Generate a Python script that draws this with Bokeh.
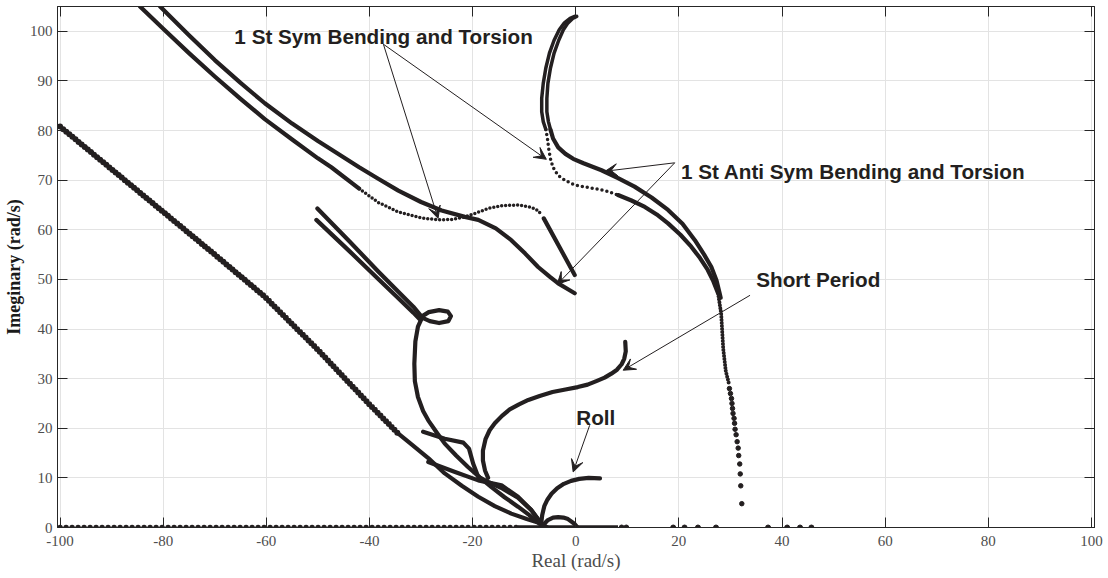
from bokeh.plotting import figure
from bokeh.models import Range1d, LinearAxis, Arrow, VeeHead, Label, FixedTicker
from bokeh.embed import file_html
from bokeh.resources import INLINE

INK = "#231f20"

# ---------------- data ----------------
x_ticks = [-100, -80, -60, -40, -20, 0, 20, 40, 60, 80, 100]
x_tick_labels = ["-100", "-80", "-60", "-40", "-20", "0", "20", "40", "60", "80", "100"]
y_ticks = [0, 10, 20, 30, 40, 50, 60, 70, 80, 90, 100]

# real-axis roots
real_dotted_x = [-100.0, -11.2]
real_solid_x = [-11.2, 8.2]
real_pts_x = [8.9, 9.8, 18.9, 21.1, 23.7, 27.2, 37.3, 41.0, 43.5, 45.7]

# long diagonal branch (dotted part, then dense part)
diag_x = [-100, -90, -80, -70, -60.3, -50, -40, -34.4]
diag_y = [80.8, 72.2, 63.6, 55.0, 46.5, 35.8, 24.8, 18.9]
diag2_x = [-34.4, -31.9, -28.6, -25.4, -22.1, -18.9, -15.7, -12.5, -9.5, -6.7, -5.5]
diag2_y = [18.9, 16.8, 14.0, 10.9, 8.4, 6.2, 4.3, 2.8, 1.7, 0.8, 0.0]

# upper edge of the lens near the origin
lens_x = [-28.6, -23.4, -18.9, -14.4, -11.2, -8.6, -6.7]
lens_y = [13.2, 11.2, 9.5, 8.5, 6.2, 3.5, 0.8]

# 1st symmetric bending/torsion: upper solid branch
symu_x = [-80.6, -75, -70, -65, -60.3, -55, -50, -47.4, -42, -38.3, -34.4, -30, -26, -21.5,
          -18.9, -15.5, -12.5, -9.8, -7.3, -5, -3.4, -1.5, -0.2]
symu_y = [105, 99.2, 94.2, 89.6, 85.5, 81.4, 77.9, 76.2, 72.6, 70.3, 67.9, 65.6, 63.9, 62.6,
          62.0, 60.3, 57.9, 55.2, 52.5, 50.5, 49.2, 48.0, 47.2]
# lower branch: solid, dotted, then solid tail
syml_x = [-84.5, -80, -75, -70, -65, -60.3, -55, -50, -47.4, -42]
syml_y = [105, 100.5, 95.6, 90.9, 86.4, 82.3, 78.2, 74.4, 72.6, 68.3]
symd_x = [-42, -38.3, -34.4, -30, -26.7, -24, -21.5, -19, -17, -14, -11, -8.5, -7.2, -6.7]
symd_y = [68.3, 65.5, 63.6, 62.4, 62.0, 62.1, 62.6, 63.5, 64.3, 64.9, 65.0, 64.5, 63.8, 63.0]
syme_x = [-6.2, -0.2]
syme_y = [62.3, 50.9]

# 1st anti-symmetric bending/torsion
hook_y = [103.0, 102.6, 101.7, 100.3, 98.2, 95.6, 92.6, 89.5, 86.5, 83.8, 81.8, 80.2]
hookl_x = [-0.2, -1.1, -2.2, -3.2, -4.2, -5.1, -5.8, -6.3, -6.6, -6.6, -6.3, -5.8]
hookr_x = [0.2, -0.6, -1.5, -2.4, -3.3, -4.2, -4.9, -5.4, -5.6, -5.6, -5.3, -4.9]
antd_x = [-5.8, -5.5, -5.2, -4.8, -4.1, -3.1, -2.1, -0.8, 0.4, 2.0, 3.7, 6.0, 8.2]
antd_y = [80.2, 78.5, 76.0, 73.8, 71.9, 70.7, 70.0, 69.3, 68.9, 68.6, 68.3, 67.8, 67.0]
antl_x = [8.2, 10.8, 13.4, 15.7, 17.9, 20.3, 22.4, 24.1, 25.6, 26.7, 27.6]
antl_y = [67.0, 65.9, 64.6, 63.1, 61.3, 59.0, 56.6, 54.3, 51.9, 49.6, 47.2]
ants_x = [-4.9, -4.4, -3.4, -2.0, -0.5, 1.5, 5.0, 8.2, 11.4, 14.7, 17.9, 20.7, 23.1, 24.9,
          26.3, 27.3, 27.9, 28.1]
ants_y = [80.2, 78.4, 76.6, 75.3, 74.3, 73.4, 72.0, 70.4, 68.7, 66.5, 64.0, 61.2, 57.9, 55.0,
          52.5, 49.8, 47.2, 46.3]
tail_x = [27.6, 28.2, 28.6, 29.1, 29.7]
tail_y = [47.2, 43.1, 36.0, 31.5, 29.0]
tailpts_x = [29.8, 30.0, 30.2, 30.3, 30.4, 30.5, 30.7, 30.8, 30.9, 31.1, 31.3, 31.5,
             31.6, 31.8, 31.9, 32.0, 32.2]
tailpts_y = [28.0, 27.0, 26.0, 25.0, 24.0, 23.0, 22.0, 21.0, 19.8, 18.7, 17.3, 16.0,
             14.5, 12.8, 10.8, 8.4, 4.8]

# branches starting near (-50, 63) with the small loop
loopa_x = [-50.1, -44, -38.3, -34.4, -31.5, -29.9, -28.5, -26.5, -24.8, -24.2, -24.7, -26.5,
           -28.3, -29.8, -30.6, -31.1, -31.3, -31.2, -30.6, -29.6, -28.6, -27.0, -25.4, -23.2,
           -20.9, -18.6, -16.4, -13.8, -11.2, -9.0, -6.7]
loopa_y = [64.3, 57.8, 51.6, 47.5, 44.5, 42.5, 43.4, 43.8, 43.5, 42.6, 41.6, 41.2,
           41.6, 42.3, 40.5, 37.5, 33.0, 29.5, 26.3, 23.5, 21.6, 19.2, 16.9, 14.5,
           12.2, 10.1, 8.2, 6.1, 4.2, 2.5, 0.5]
loopb_x = [-50.3, -44, -38.3, -34.4, -31.5, -30.3]
loopb_y = [62.0, 55.8, 50.1, 46.2, 43.3, 42.0]

# kinked branch
kink_x = [-29.6, -25.4, -21.8, -20.7, -19.9, -18.9, -17, -14.5, -11.2, -8.6, -6.7]
kink_y = [19.3, 17.9, 17.1, 15.9, 12.9, 10.2, 9.2, 8.0, 6.0, 3.5, 0.8]

# short period
sp_x = [-17.0, -17.6, -18.0, -18.0, -17.5, -16.7, -15.7, -14.3, -12.8, -11.0, -9.2, -7.0,
        -4.5, -2.0, 0.4, 2.3, 4.0, 5.6, 6.9, 8.0, 8.9, 9.4, 9.7, 9.6]
sp_y = [10.0, 11.5, 13.5, 15.5, 17.8, 19.6, 21.0, 22.5, 23.8, 24.8, 25.7, 26.5,
        27.3, 27.8, 28.3, 28.8, 29.5, 30.2, 31.0, 31.8, 32.9, 34.0, 35.5, 37.4]

# roll
roll_x = [-6.7, -6.5, -6.1, -5.5, -4.7, -3.6, -2.3, -0.9, 0.7, 2.5, 4.7]
roll_y = [0.8, 2.5, 4.3, 5.6, 6.8, 7.9, 8.8, 9.4, 9.8, 10.0, 9.9]
hump_x = [-6.5, -5.4, -4.4, -3.4, -2.4, -1.5, -0.2, 0.3]
hump_y = [0.3, 1.5, 2.0, 2.1, 2.0, 1.7, 0.7, 0.1]

# annotations: (text, x, y)
labels = [
    ("1 St Sym Bending and Torsion", -66.2, 99.0),
    ("1 St Anti Sym Bending and Torsion", 20.4, 71.8),
    ("Short Period", 35.0, 50.0),
    ("Roll", 0.1, 22.2),
]
# arrows: (x_start, y_start, x_end, y_end)
arrows = [
    (-37.3, 97.4, -26.7, 62.3),
    (-37.3, 97.4, -5.7, 74.2),
    (19.2, 73.5, 5.7, 71.8),
    (19.2, 73.5, -3.6, 49.0),
    (33.8, 46.8, 9.2, 31.7),
    (2.7, 20.6, -0.5, 11.2),
]

# ---------------- figure ----------------
p = figure(frame_width=1037, frame_height=521,
           x_range=Range1d(-100.5, 100.6), y_range=Range1d(0, 105),
           output_backend="svg", toolbar_location=None, title=None,
           min_border_left=51, min_border_top=6, min_border_right=11, min_border_bottom=0,
           background_fill_color="white", border_fill_color="white")

p.outline_line_color = "#262626"
p.outline_line_width = 1

for ax in (p.xaxis[0], p.yaxis[0]):
    ax.major_tick_in = 10
    ax.major_tick_out = 0
    ax.minor_tick_in = 0
    ax.minor_tick_out = 0
    ax.axis_line_color = "#262626"
    ax.major_tick_line_color = "#262626"
    ax.major_label_text_font = "Liberation Serif"
    ax.major_label_text_font_size = "15px"
    ax.major_label_text_color = "#4d4d4d"

p.xaxis.ticker = FixedTicker(ticks=x_ticks)
p.xaxis.major_label_overrides = dict(zip(x_ticks, x_tick_labels))
p.yaxis.ticker = FixedTicker(ticks=y_ticks)
p.xaxis.major_label_standoff = 8
p.yaxis.major_label_standoff = 5

p.xaxis.axis_label = "Real (rad/s)"
p.xaxis.axis_label_text_font = "Liberation Serif"
p.xaxis.axis_label_text_font_style = "normal"
p.xaxis.axis_label_text_font_size = "19px"
p.xaxis.axis_label_text_color = "#4d4d4d"
p.xaxis.axis_label_standoff = 1

p.yaxis.axis_label = "Imeginary (rad/s)"
p.yaxis.axis_label_text_font = "Liberation Serif"
p.yaxis.axis_label_text_font_style = "bold"
p.yaxis.axis_label_text_font_size = "18px"
p.yaxis.axis_label_text_color = "#1a1a1a"
p.yaxis.axis_label_standoff = 3

for loc, ticks in (("above", x_ticks), ("right", y_ticks)):
    ax = LinearAxis(ticker=FixedTicker(ticks=ticks), major_tick_in=10, major_tick_out=0,
                    minor_tick_in=0, minor_tick_out=0, major_label_text_font_size="1px",
                    major_label_text_color=None, major_label_standoff=0,
                    axis_line_color="#262626", major_tick_line_color="#262626")
    p.add_layout(ax, loc)

p.xgrid.ticker = FixedTicker(ticks=x_ticks)
p.ygrid.ticker = FixedTicker(ticks=y_ticks)
p.grid.grid_line_color = "#e3e3e3"
p.grid.grid_line_width = 1

solid = dict(line_color=INK, line_width=4.2, line_cap="round", line_join="round")

# real axis
p.line(real_dotted_x, [0] * len(real_dotted_x), line_color=INK, line_width=5.5,
       line_cap="round", line_dash="0 6")
p.line(real_solid_x, [0] * len(real_solid_x), line_color=INK, line_width=4.5)
p.scatter(real_pts_x, [0] * len(real_pts_x), size=5, color=INK)

# diagonal
p.line(diag_x, diag_y, line_color=INK, line_width=6, line_cap="round", line_dash="0 4")
p.line(diag2_x, diag2_y, **solid)
p.line(lens_x, lens_y, **solid)

# symmetric mode
p.line(symu_x, symu_y, **solid)
p.line(syml_x, syml_y, **solid)
p.line(symd_x, symd_y, line_color=INK, line_width=3.5, line_cap="round", line_dash="0 4")
p.line(syme_x, syme_y, **solid)

# anti-symmetric mode
p.line(hookl_x, hook_y, line_color=INK, line_width=3.5, line_cap="round", line_join="round")
p.line(hookr_x, hook_y, line_color=INK, line_width=3.5, line_cap="round", line_join="round")
p.line(antd_x, antd_y, line_color=INK, line_width=3.5, line_cap="round", line_dash="0 5")
p.line(antl_x, antl_y, **solid)
p.line(ants_x, ants_y, **solid)
p.line(tail_x, tail_y, line_color=INK, line_width=4, line_cap="round", line_dash="0 3")
p.scatter(tailpts_x, tailpts_y, size=4.5, color=INK)

# loops and low branches
p.line(loopa_x, loopa_y, **solid)
p.line(loopb_x, loopb_y, **solid)
p.line(kink_x, kink_y, **solid)
p.line(sp_x, sp_y, **solid)
p.line(roll_x, roll_y, **solid)
p.line(hump_x, hump_y, **solid)

for t, x, y in labels:
    p.add_layout(Label(x=x, y=y, text=t, text_font="Liberation Sans", text_font_style="bold",
                       text_font_size="20.7px", text_color=INK, text_baseline="alphabetic"))

for xs, ys, xe, ye in arrows:
    p.add_layout(Arrow(x_start=xs, y_start=ys, x_end=xe, y_end=ye, line_color=INK, line_width=1,
                       end=VeeHead(size=12, fill_color=INK, line_color=INK, line_width=1)))

open("out.html", "w").write(file_html(p, INLINE))
